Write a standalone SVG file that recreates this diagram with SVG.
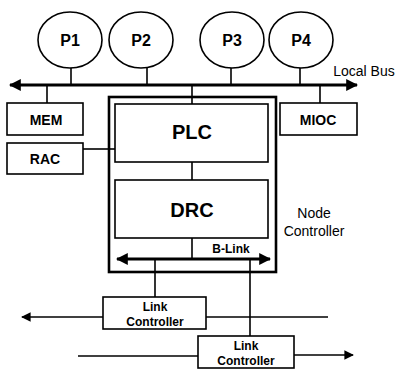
<svg xmlns="http://www.w3.org/2000/svg" width="401" height="372" viewBox="0 0 401 372">
<defs>
<marker id="ah" viewBox="0 0 10 10" refX="9" refY="5" markerWidth="4" markerHeight="4" orient="auto-start-reverse" markerUnits="strokeWidth"><path d="M0,0 L10,5 L0,10 z" fill="#000"/></marker>
<marker id="ahs" viewBox="0 0 10 10" refX="9" refY="5" markerWidth="6" markerHeight="6" orient="auto" markerUnits="strokeWidth"><path d="M0,0 L10,5 L0,10 z" fill="#000"/></marker>
</defs>
<style>
.box{fill:#fff;stroke:#000;stroke-width:1.6}
.cir{fill:#fff;stroke:#000;stroke-width:1.6}
.ln{fill:none;stroke:#000;stroke-width:1.6}
.thick{fill:none;stroke:#000;stroke-width:3}
.outer{fill:none;stroke:#000;stroke-width:2.6}
.t{font-family:"Liberation Sans",Arial,sans-serif;fill:#000;text-anchor:middle}
.b{font-weight:bold}
</style>
<rect width="401" height="372" fill="#fff"/>
<g id="connectors">
<line class="thick" x1="10" y1="85" x2="357" y2="85" marker-start="url(#ah)" marker-end="url(#ah)"/>
<line class="ln" x1="71" y1="68" x2="71" y2="85"/>
<line class="ln" x1="147" y1="68" x2="147" y2="85"/>
<line class="ln" x1="231" y1="68" x2="231" y2="85"/>
<line class="ln" x1="300" y1="68" x2="300" y2="85"/>
<line class="ln" x1="47" y1="85" x2="47" y2="103"/>
<line class="ln" x1="320" y1="85" x2="320" y2="103"/>
<line class="ln" x1="192" y1="85" x2="192" y2="104"/>
<line class="ln" x1="83" y1="149" x2="115" y2="149"/>
<line class="ln" x1="192" y1="162" x2="192" y2="180"/>
<line class="ln" x1="192" y1="238" x2="192" y2="259"/>
<line class="thick" x1="117" y1="259" x2="270" y2="259" marker-start="url(#ah)" marker-end="url(#ah)"/>
<line class="ln" x1="155" y1="259" x2="155" y2="297"/>
<line class="ln" x1="250" y1="259" x2="250" y2="336"/>
<line class="ln" x1="103" y1="317" x2="22" y2="317" marker-end="url(#ahs)"/>
<line class="ln" x1="206" y1="317" x2="328" y2="317"/>
<line class="ln" x1="78" y1="356" x2="198" y2="356"/>
<line class="ln" x1="294" y1="355" x2="353" y2="355" marker-end="url(#ahs)"/>
</g>
<g id="P1"><ellipse class="cir" cx="70" cy="40" rx="32" ry="28"/><text class="t b" x="70" y="46" font-size="16">P1</text></g>
<g id="P2"><ellipse class="cir" cx="141" cy="40" rx="32" ry="28"/><text class="t b" x="141" y="46" font-size="16">P2</text></g>
<g id="P3"><ellipse class="cir" cx="232" cy="40" rx="32" ry="28"/><text class="t b" x="232" y="46" font-size="16">P3</text></g>
<g id="P4"><ellipse class="cir" cx="301" cy="40" rx="32" ry="28"/><text class="t b" x="301" y="46" font-size="16">P4</text></g>
<g id="localbus-label"><text class="t" x="364" y="76" font-size="14">Local Bus</text></g>
<g id="MEM"><rect class="box" x="7" y="103" width="76" height="32"/><text class="t b" x="46" y="125" font-size="14">MEM</text></g>
<g id="RAC"><rect class="box" x="7" y="143" width="76" height="31"/><text class="t b" x="45" y="164" font-size="14">RAC</text></g>
<g id="MIOC"><rect class="box" x="280" y="103" width="77" height="32"/><text class="t b" x="318" y="125" font-size="14">MIOC</text></g>
<g id="NodeController">
<rect class="outer" x="109" y="97" width="167" height="175"/>
<text class="t" x="314" y="218" font-size="14">Node</text>
<text class="t" x="314" y="236" font-size="14">Controller</text>
</g>
<g id="PLC"><rect class="box" x="115" y="104" width="153" height="58"/><text class="t b" x="192" y="139" font-size="20">PLC</text></g>
<g id="DRC"><rect class="box" x="115" y="180" width="153" height="58"/><text class="t b" x="192" y="217" font-size="20">DRC</text></g>
<g id="BLink"><text class="t b" x="231" y="253" font-size="12">B-Link</text></g>
<g id="LinkController1"><rect class="box" x="103" y="297" width="103" height="32"/><text class="t b" x="155" y="311" font-size="12">Link</text><text class="t b" x="155" y="326" font-size="12">Controller</text></g>
<g id="LinkController2"><rect class="box" x="198" y="336" width="96" height="32"/><text class="t b" x="246" y="350" font-size="12">Link</text><text class="t b" x="246" y="365" font-size="12">Controller</text></g>
</svg>
